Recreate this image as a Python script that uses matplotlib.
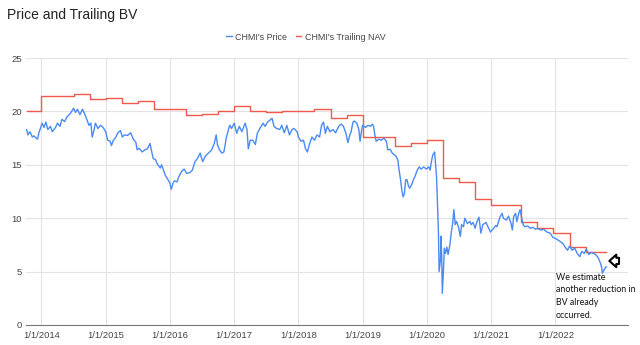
import matplotlib.pyplot as plt
import numpy as np

# price (decimal year, value)
price_t = [2013.77, 2013.79, 2013.82, 2013.86, 2013.88, 2013.94, 2013.96, 2013.99,
           2014.01, 2014.04, 2014.07, 2014.10, 2014.14, 2014.17, 2014.22, 2014.25,
           2014.29, 2014.32, 2014.36, 2014.40, 2014.45, 2014.50, 2014.53, 2014.56,
           2014.60, 2014.64, 2014.67, 2014.70, 2014.74, 2014.77, 2014.79, 2014.82,
           2014.84, 2014.88, 2014.92, 2014.96, 2015.00, 2015.03, 2015.07, 2015.09,
           2015.12, 2015.16, 2015.19, 2015.23, 2015.26, 2015.29, 2015.34, 2015.39,
           2015.43, 2015.47, 2015.49, 2015.52, 2015.57, 2015.61, 2015.65, 2015.69,
           2015.71, 2015.74, 2015.78, 2015.80, 2015.85, 2015.87, 2015.90, 2015.93,
           2015.97, 2016.00, 2016.02, 2016.05, 2016.07, 2016.11, 2016.14, 2016.18,
           2016.22, 2016.26, 2016.31, 2016.35, 2016.39, 2016.43, 2016.47, 2016.51,
           2016.55, 2016.60, 2016.65, 2016.69, 2016.72, 2016.74, 2016.77, 2016.81,
           2016.84, 2016.88, 2016.93, 2016.96, 2017.00, 2017.04, 2017.08, 2017.12,
           2017.17, 2017.20, 2017.22, 2017.25, 2017.29, 2017.33, 2017.36, 2017.40,
           2017.45, 2017.48, 2017.52, 2017.56, 2017.59, 2017.62, 2017.66, 2017.71,
           2017.74, 2017.78, 2017.82, 2017.86, 2017.90, 2017.93, 2017.98, 2018.00,
           2018.04, 2018.08, 2018.11, 2018.14, 2018.17, 2018.21, 2018.25, 2018.29,
           2018.33, 2018.36, 2018.39, 2018.42, 2018.45, 2018.49, 2018.54, 2018.58,
           2018.61, 2018.64, 2018.67, 2018.70, 2018.74, 2018.77, 2018.80, 2018.82,
           2018.85, 2018.87, 2018.91, 2018.94, 2018.96, 2018.98, 2019.00, 2019.05,
           2019.08, 2019.12, 2019.15, 2019.17, 2019.19, 2019.21, 2019.25, 2019.29,
           2019.33, 2019.37, 2019.39, 2019.43, 2019.46, 2019.50, 2019.52, 2019.55,
           2019.56, 2019.59, 2019.61, 2019.63, 2019.65, 2019.67, 2019.69, 2019.71,
           2019.73, 2019.76, 2019.79, 2019.82, 2019.85, 2019.88, 2019.91, 2019.95,
           2019.99, 2020.03, 2020.05, 2020.07, 2020.09, 2020.12, 2020.13, 2020.15,
           2020.16, 2020.18, 2020.19, 2020.21, 2020.22, 2020.23, 2020.24, 2020.26,
           2020.27, 2020.29, 2020.31, 2020.33, 2020.36, 2020.38, 2020.40, 2020.42,
           2020.44, 2020.46, 2020.49, 2020.52, 2020.54, 2020.57, 2020.59, 2020.63,
           2020.67, 2020.69, 2020.72, 2020.75, 2020.78, 2020.81, 2020.84, 2020.87,
           2020.92, 2020.95, 2020.99, 2021.03, 2021.07, 2021.09, 2021.14, 2021.17,
           2021.19, 2021.24, 2021.27, 2021.31, 2021.33, 2021.35, 2021.38, 2021.40,
           2021.43, 2021.45, 2021.47, 2021.50, 2021.53, 2021.57, 2021.61, 2021.65,
           2021.69, 2021.72, 2021.77, 2021.82, 2021.87, 2021.92, 2021.96, 2022.00,
           2022.04, 2022.08, 2022.12, 2022.15, 2022.19, 2022.22, 2022.26, 2022.30,
           2022.34, 2022.38, 2022.41, 2022.45, 2022.48, 2022.52, 2022.56, 2022.60,
           2022.64, 2022.67, 2022.70, 2022.72, 2022.73, 2022.76, 2022.79]
price_v = [18.3, 17.8, 18.1, 17.6, 17.7, 17.4, 18.0, 18.5,
           18.9, 18.5, 19.0, 18.3, 18.6, 18.1, 18.5, 18.9,
           18.6, 19.26, 19.05, 19.5, 19.8, 20.3, 19.9, 20.2,
           19.7, 20.2, 19.8, 19.35, 18.7, 18.9, 17.6, 18.3,
           18.9, 18.4, 18.7, 18.5, 18.1, 17.3, 17.2, 16.8,
           17.3, 17.6, 18.0, 18.2, 17.6, 17.8, 17.75, 18.0,
           17.4, 17.1, 16.4, 16.55, 16.2, 16.4, 16.5, 17.0,
           16.4, 15.6, 15.45, 15.1, 14.7, 15.0, 14.5, 14.0,
           13.6, 13.3, 12.7, 13.3, 13.5, 13.4, 13.9, 14.35,
           14.6, 14.2, 14.27, 14.5, 15.3, 15.6, 16.1, 15.3,
           15.8, 16.1, 16.4, 17.0, 17.8, 16.9, 16.4, 16.1,
           16.2, 17.6, 18.7, 18.4, 18.9, 17.95, 18.6, 18.1,
           18.9, 18.3, 16.5, 17.3, 17.3, 16.9, 17.95, 18.4,
           18.9, 18.6, 19.0, 19.2, 19.35, 18.6, 18.4, 18.3,
           18.7, 18.0, 18.7, 17.8, 18.3, 18.4, 18.1, 17.6,
           17.2, 17.3, 16.5, 16.2, 16.9, 17.6, 17.3, 17.8,
           17.6, 18.7, 19.0, 17.95, 18.6, 18.1, 18.3, 18.0,
           18.4, 18.7, 18.8, 18.6, 17.95, 17.07, 17.8, 18.1,
           19.0, 19.1, 18.9, 18.3, 17.2, 18.1, 18.7, 18.5,
           18.7, 18.6, 18.8, 18.6, 17.8, 17.2, 17.4, 17.3,
           17.5, 17.2, 16.4, 16.45, 16.1, 15.9, 15.8, 15.4,
           14.8, 13.6, 12.6, 12.0, 12.3, 13.6, 13.6, 13.1,
           12.8, 13.1, 13.6, 14.0, 14.5, 14.8, 14.6, 14.8,
           14.6, 14.8, 14.5, 15.3, 15.9, 16.2, 15.45, 13.9,
           12.2, 8.6, 5.0, 6.1, 8.3, 6.4, 2.97, 5.5,
           7.2, 6.7, 7.3, 6.6, 7.6, 8.7, 9.5, 10.8,
           9.4, 9.7, 9.2, 8.3, 9.4, 9.2, 10.0, 9.5,
           9.7, 9.4, 9.6, 9.05, 9.7, 10.1, 8.6, 9.4,
           9.6, 9.2, 8.7, 9.0, 9.3, 9.2, 10.15, 10.46,
           10.0, 9.83, 10.2, 9.5, 8.9, 10.15, 10.46, 9.67,
           10.46, 10.8, 10.15, 9.36, 9.2, 9.27, 9.05, 9.15,
           8.96, 9.05, 8.9, 8.96, 8.7, 8.6, 8.2, 8.1,
           7.96, 7.8, 7.6, 7.3, 7.0, 7.4, 7.0, 7.2,
           6.7, 6.4, 6.9, 6.7, 7.1, 6.6, 6.8, 6.7,
           6.5, 6.25, 5.8, 5.4, 4.84, 5.2, 5.46]

# trailing NAV steps (start of period, value)
nav_t = [2013.77, 2014.00, 2014.50, 2014.75, 2015.00, 2015.25, 2015.50, 2015.75,
         2016.25, 2016.50, 2016.75, 2017.00, 2017.25, 2017.50, 2017.75, 2018.25,
         2018.50, 2018.75, 2019.00, 2019.50, 2019.75, 2020.00, 2020.25, 2020.50,
         2020.75, 2021.00, 2021.46, 2021.72, 2021.97, 2022.22, 2022.47, 2022.79]
nav_v = [20.0, 21.45, 21.6, 21.2, 21.3, 20.75, 20.95, 20.2,
         19.66, 19.75, 20.07, 20.5, 20.07, 19.9, 20.07, 20.18,
         19.35, 19.62, 17.57, 16.78, 17.0, 17.3, 13.73, 13.4,
         11.8, 11.2, 9.63, 9.12, 8.58, 7.3, 6.85, 6.85]

years = list(range(2014, 2023))
year_labels = ['1/1/%d' % y for y in years]
yticks = [0, 5, 10, 15, 20, 25]

plt.rcParams['font.family'] = ['Liberation Sans', 'DejaVu Sans']

fig = plt.figure(figsize=(6.4, 3.45), dpi=100)
ax = fig.add_axes([26/640, 1 - 325/345, (628 - 26)/640, (325 - 58)/345])

ax.plot(price_t, price_v, color='#4a8af4', lw=1.0, label="CHMI's Price", zorder=3)
ax.step(nav_t, nav_v, where='post', color='#f0594b', lw=1.0,
        label="CHMI's Trailing NAV", zorder=2)

ax.set_xlim(2013.76, 2023.13)
ax.set_ylim(0, 25)
ax.set_xticks(years)
ax.set_xticklabels(year_labels)
ax.set_yticks(yticks)
ax.grid(True, color='#e3e3e3', lw=0.8)
ax.set_axisbelow(True)
for s in ['top', 'right', 'left']:
    ax.spines[s].set_visible(False)
ax.spines['bottom'].set_color('#777777')
ax.spines['bottom'].set_linewidth(0.8)
ax.tick_params(length=0, labelsize=6.8, labelcolor='#444444')
ax.tick_params(axis='x', pad=4)
ax.tick_params(axis='y', pad=3)

fig.text(7/640, 1 - 15/345, 'Price and Trailing BV', fontsize=10,
         color='#222222', va='center', ha='left')
fig.legend(loc='center', bbox_to_anchor=(306/640, 1 - 37/345), ncol=2,
           frameon=False, fontsize=6.4, handlelength=0.6, handletextpad=0.4,
           columnspacing=1.0, labelcolor='#444444')

# annotation
fig.text(556/640, 1 - 273/345, 'We estimate\nanother reduction in\nBV already\noccurred.',
         fontsize=6.4, family=['Lato', 'DejaVu Sans'], va='top', ha='left',
         color='#111111', linespacing=1.5)
ax.annotate('', xy=(2022.84, 6.0), xytext=(2022.99, 6.0),
            arrowprops=dict(arrowstyle='simple,head_width=0.9,head_length=0.5,tail_width=0.45',
                            fc='white', ec='black', lw=1.5, shrinkA=0, shrinkB=0),
            annotation_clip=False)

plt.savefig('out.png', dpi=100)
